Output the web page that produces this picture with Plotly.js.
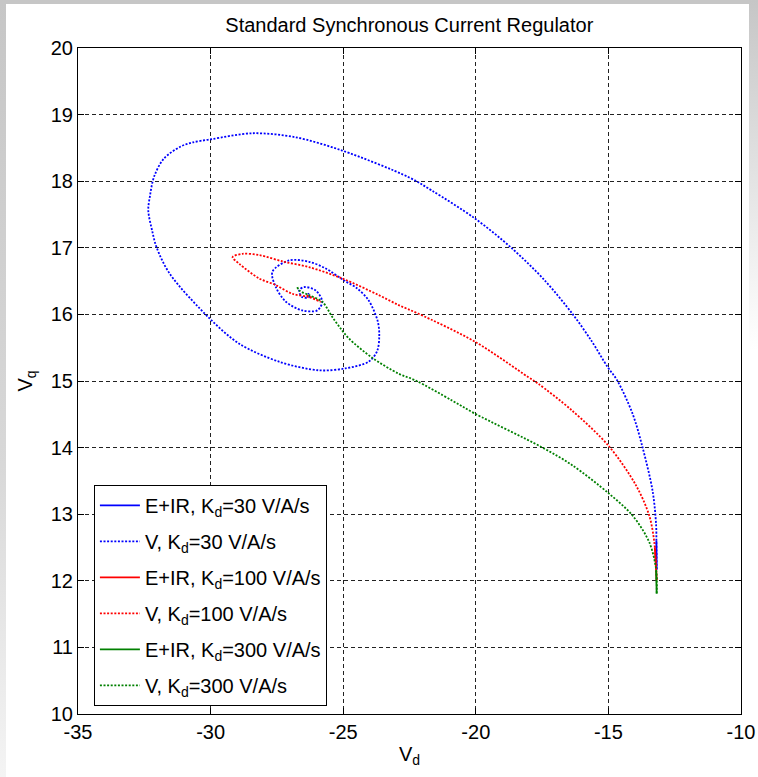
<!DOCTYPE html>
<html>
<head>
<meta charset="utf-8">
<script src="https://cdn.plot.ly/plotly-3.0.1.min.js"></script>
<style>
  html, body { margin: 0; padding: 0; width: 758px; height: 777px; overflow: hidden; background: #ffffff; }
  #frame { position: absolute; left: 0; top: 0; width: 758px; height: 777px; background: #ffffff; }
  #lb { position: absolute; left: 0; top: 0; width: 6px; height: 777px; background: linear-gradient(#c6c6c6, #d8d8d8 60%, #f4f4f4); }
  #tb { position: absolute; left: 0; top: 0; width: 758px; height: 4px; background: #c6c6c6; }
  #rb { position: absolute; left: 749px; top: 0; width: 9px; height: 777px; background: linear-gradient(#c6c6c6, #ffffff 45%); }
  #chart { position: absolute; left: 0; top: 0; width: 758px; height: 777px; }
</style>
</head>
<body>
<div id="frame"></div><div id="lb"></div><div id="tb"></div><div id="rb"></div>
<div id="chart"></div>
<script>
// V, Kd = 30 V/A/s (blue dotted)
const v30_x = [-13.18,-13.19,-13.20,-13.33,-13.71,-14.09,-14.67,-15.03,-15.65,-16.34,-17.40,-18.66,-20.03,-21.66,-22.53,-25.04,-26.80,-28.42,-29.98,-30.70,-31.13,-31.76,-32.13,-32.29,-32.35,-32.20,-32.04,-31.54,-30.04,-28.92,-27.42,-25.91,-24.91,-24.04,-23.72,-23.64,-23.70,-24.04,-24.47,-24.97,-25.66,-26.29,-27.04,-27.67,-27.54,-27.16,-26.54,-25.98,-25.79,-26.04,-26.48,-26.66,-26.55,-26.29,-26.32];
const v30_y = [12.17,12.54,12.83,13.34,14.00,14.51,15.01,15.21,15.61,16.00,16.51,17.00,17.44,17.86,18.06,18.46,18.66,18.72,18.63,18.58,18.52,18.34,18.07,17.77,17.56,17.25,17.01,16.61,15.94,15.56,15.29,15.16,15.19,15.29,15.45,15.68,15.90,16.21,16.39,16.51,16.69,16.79,16.81,16.64,16.41,16.19,16.06,16.06,16.19,16.36,16.41,16.36,16.26,16.26,16.32];
// V, Kd = 100 V/A/s (red dotted)
const v100_x = [-13.18,-13.27,-13.46,-13.97,-14.98,-16.38,-17.65,-18.03,-20.03,-22.16,-22.91,-23.66,-25.04,-26.29,-27.23,-28.17,-28.80,-29.17,-28.92,-28.17,-27.54,-26.92,-26.29,-25.85,-26.10,-26.41];
const v100_y = [12.01,12.58,12.98,13.44,14.02,14.56,14.96,15.06,15.59,16.01,16.14,16.29,16.54,16.71,16.79,16.89,16.91,16.86,16.76,16.54,16.44,16.31,16.26,16.19,16.24,16.29];
// V, Kd = 300 V/A/s (green dotted)
const v300_x = [-13.18,-13.20,-13.46,-14.09,-14.98,-16.38,-17.53,-20.03,-20.91,-22.28,-22.91,-23.91,-24.79,-25.10,-25.41,-25.79,-26.29,-26.66,-26.73];
const v300_y = [11.81,12.17,12.58,12.98,13.31,13.74,14.01,14.51,14.71,15.01,15.11,15.35,15.64,15.79,15.96,16.19,16.29,16.36,16.41];
// E+IR traces (solid; mostly hidden under the V curves near the start)
const e30_x = [-13.18,-13.19];  const e30_y = [12.17,12.60];
const e100_x = [-13.18,-13.25]; const e100_y = [12.01,12.50];
const e300_x = [-13.18,-13.20]; const e300_y = [11.81,12.15];

// tick labels (plain hyphen minus as in the reference)
const xTickVals = [-35,-30,-25,-20,-15,-10];
const xTickText = ["-35","-30","-25","-20","-15","-10"];
const yTickVals = [10,11,12,13,14,15,16,17,18,19,20];
const yTickText = ["10","11","12","13","14","15","16","17","18","19","20"];

const names = ["E+IR, K<sub>d</sub>=30 V/A/s","V, K<sub>d</sub>=30 V/A/s","E+IR, K<sub>d</sub>=100 V/A/s","V, K<sub>d</sub>=100 V/A/s","E+IR, K<sub>d</sub>=300 V/A/s","V, K<sub>d</sub>=300 V/A/s"];
const colors = ["#0000ff","#0000ff","#ff0000","#ff0000","#008000","#008000"];
const xs = [e30_x, v30_x, e100_x, v100_x, e300_x, v300_x];
const ys = [e30_y, v30_y, e100_y, v100_y, e300_y, v300_y];

const traces = xs.map((x, i) => ({
  x: x, y: ys[i], type: "scatter", mode: "lines", name: names[i],
  legendgroup: "g" + i,
  line: { color: colors[i], width: 1.8, shape: "spline", smoothing: 0.9, dash: (i % 2 === 0) ? "solid" : "2px,1.6px" }
}));

const font = "Liberation Sans, Arial, sans-serif";
const layout = {
  width: 758, height: 777,
  paper_bgcolor: "rgba(0,0,0,0)", plot_bgcolor: "#ffffff",
  margin: { l: 78, r: 17, t: 48, b: 63 },
  font: { family: font, size: 20, color: "#000" },
  title: { text: "Standard Synchronous Current Regulator", font: { family: font, size: 20, color: "#000" }, x: 0.54, xanchor: "center", y: 0.968, yanchor: "middle" },
  xaxis: {
    range: [-35, -10], tickvals: xTickVals, ticktext: xTickText,
    showline: true, linecolor: "#000", linewidth: 1, mirror: "ticks",
    ticks: "inside", ticklen: 6, tickcolor: "#000",
    showgrid: true, gridcolor: "#222", gridwidth: 1, griddash: "4px,3px",
    zeroline: false, tickfont: { size: 20 },
    title: { text: "V<sub>d</sub>", font: { size: 20 }, standoff: 4 }
  },
  yaxis: {
    range: [10, 20], tickvals: yTickVals, ticktext: yTickText,
    showline: true, linecolor: "#000", linewidth: 1, mirror: "ticks",
    ticks: "inside", ticklen: 6, tickcolor: "#000",
    showgrid: true, gridcolor: "#222", gridwidth: 1, griddash: "4px,3px",
    zeroline: false, tickfont: { size: 20 },
    title: { text: "V<sub>q</sub>", font: { size: 20 }, standoff: 12 }
  },
  showlegend: true,
  legend: {
    x: 0.024, y: 0.344, xanchor: "left", yanchor: "top",
    bgcolor: "#ffffff", bordercolor: "#000", borderwidth: 1,
    font: { family: font, size: 20, color: "#000" },
    tracegroupgap: 7, itemwidth: 40
  }
};
Plotly.newPlot("chart", traces, layout, { displayModeBar: false, staticPlot: true });
</script>
</body>
</html>
